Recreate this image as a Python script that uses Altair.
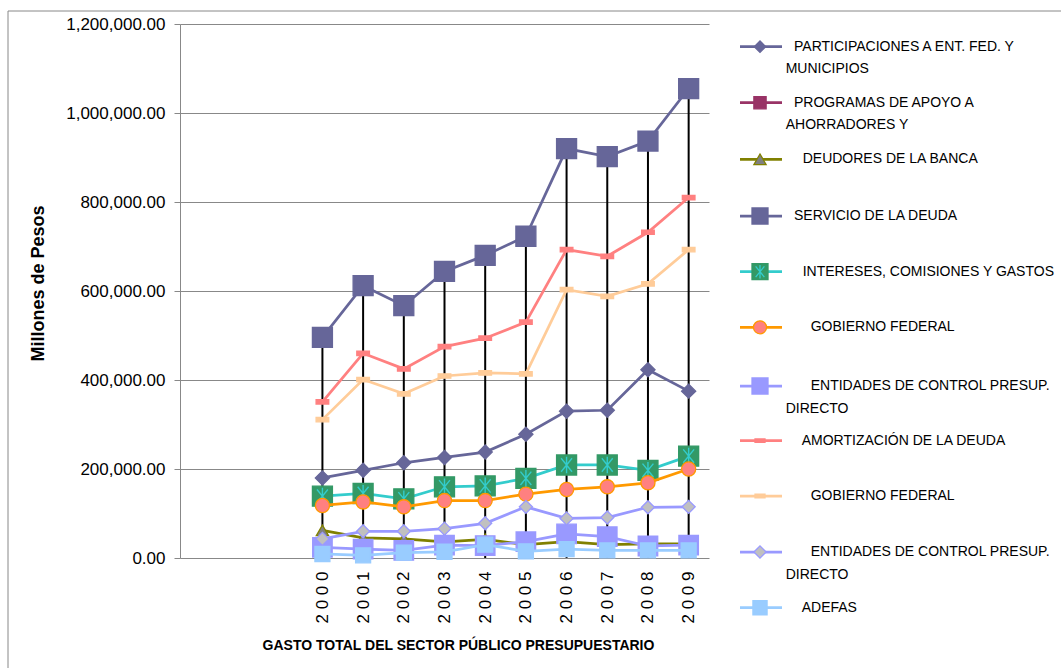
import altair as alt
import pandas as pd

# ---------------- data ----------------
years = [2000, 2001, 2002, 2003, 2004, 2005, 2006, 2007, 2008, 2009]

participaciones = [180000, 197000, 214000, 226000, 238000, 278000, 330000, 332000, 423000, 375000]
programas = [None] * 10  # no visible values in the chart
deudores = [62000, 45000, 43000, 36000, 42000, 30000, 37000, 30000, 32000, 32000]
servicio = [496000, 612000, 567000, 644000, 680000, 723000, 920000, 902000, 937000, 1055000]
intereses = [139000, 145000, 133000, 160000, 162000, 179000, 209000, 209000, 197000, 229000]
gobierno = [118000, 126000, 115000, 129000, 129000, 143500, 154000, 160000, 169000, 200000]
entidades = [24000, 20000, 17000, 29000, 28000, 36600, 54000, 48000, 27000, 29000]
amortizacion = [351000, 460000, 425000, 475000, 494000, 530000, 693000, 678000, 732000, 810000]
gobierno2 = [311000, 401000, 369000, 409000, 416000, 414000, 603000, 588000, 616000, 693000]
entidades2 = [43000, 60000, 60000, 66000, 78000, 115000, 89000, 91000, 114000, 115000]
adefas = [9000, 6000, 12000, 14000, 30000, 15000, 20000, 17000, 17000, 17000]

series_keys = ["participaciones", "programas", "deudores", "servicio", "intereses",
               "gobierno", "entidades", "amortizacion", "gobierno2", "entidades2", "adefas"]
series_values = [participaciones, programas, deudores, servicio, intereses,
                 gobierno, entidades, amortizacion, gobierno2, entidades2, adefas]
legend_line1 = ["PARTICIPACIONES A ENT. FED. Y", "PROGRAMAS DE APOYO  A", "DEUDORES DE LA BANCA",
                "SERVICIO DE LA DEUDA", "INTERESES, COMISIONES Y GASTOS", "GOBIERNO FEDERAL",
                "ENTIDADES DE CONTROL PRESUP.", "AMORTIZACIÓN DE LA DEUDA", "GOBIERNO FEDERAL",
                "ENTIDADES DE CONTROL PRESUP.", "ADEFAS"]
legend_line2 = ["MUNICIPIOS", "AHORRADORES Y", "", "", "", "", "DIRECTO", "", "", "DIRECTO", ""]

y_ticks = [0, 200000, 400000, 600000, 800000, 1000000, 1200000]

rows = []
for key, vals in zip(series_keys, series_values):
    for yr, v in zip(years, vals):
        if v is not None:
            rows.append({"series": key, "year": yr, "value": v})
df = pd.DataFrame(rows)

# ---------------- styles ----------------
DASH = "M-1,-0.35L1,-0.35L1,0.35L-1,0.35Z"
STAR = "M-0.65,-0.8L0.65,0.8M0.65,-0.8L-0.65,0.8M0,-1L0,1"
style = {
    "participaciones": dict(line="#666699", shape="diamond", fill="#666699", stroke="#666699", size=200, lsize=130),
    "programas": dict(line="#993366", shape="square", fill="#993366", stroke="#993366", size=150, lsize=150),
    "deudores": dict(line="#808000", shape="triangle-up", fill="#808080", stroke="#808000", size=150, lsize=150),
    "servicio": dict(line="#666699", shape="square", fill="#666699", stroke="#666699", size=400, lsize=256),
    "intereses": dict(line="#33CCCC", shape="square", fill="#339966", stroke="#339966", size=400, lsize=256, star=True),
    "gobierno": dict(line="#FF9900", shape="circle", fill="#FF8080", stroke="#FF9900", size=200, lsize=170),
    "entidades": dict(line="#9999FF", shape="square", fill="#9999FF", stroke="#9999FF", size=380, lsize=256),
    "amortizacion": dict(line="#FF8080", shape=DASH, fill="#FF8080", stroke="#FF8080", size=160, lsize=100),
    "gobierno2": dict(line="#FFCC99", shape=DASH, fill="#FFCC99", stroke="#FFCC99", size=160, lsize=100),
    "entidades2": dict(line="#9999FF", shape="diamond", fill="#C0C0C0", stroke="#9999FF", size=170, lsize=150),
    "adefas": dict(line="#99CCFF", shape="square", fill="#99CCFF", stroke="#99CCFF", size=225, lsize=200),
}

FONT = "Liberation Sans, Arial, sans-serif"

W, H = 529, 534
PAD_L, PAD_T = 180, 24

x_axis = alt.Axis(
    values=years, labelExpr="join(split(toString(datum.value), ''), ' ')",
    labelAngle=270, labelAlign="right", labelBaseline="middle",
    labelFont=FONT, labelFontSize=17, labelColor="#000000", labelPadding=13,
    ticks=False, tickSize=0, domain=False, grid=False,
    title="GASTO TOTAL DEL SECTOR PÚBLICO PRESUPUESTARIO",
    titleFont=FONT, titleFontSize=14, titleFontWeight="bold", titleColor="#000000",
    titleX=278, titleY=87, titleAlign="center", titleBaseline="middle",
)
y_axis = alt.Axis(
    values=y_ticks, format=",.2f", grid=True, gridColor="#888888", gridWidth=1,
    domainColor="#888888", tickColor="#888888", tickSize=6,
    labelFont=FONT, labelFontSize=17, labelColor="#000000", labelPadding=9,
    title="Millones de Pesos", titleFont=FONT, titleFontSize=18, titleFontWeight="bold",
    titleColor="#000000", titleAngle=270, titleX=-142, titleY=259,
    titleAlign="center", titleBaseline="middle",
)
x_scale = alt.Scale(domain=[1996.5, 2009.5], nice=False, zero=False)
y_scale = alt.Scale(domain=[0, 1200000], nice=False)

x_enc = alt.X("year:Q", scale=x_scale, axis=x_axis)
y_enc = alt.Y("value:Q", scale=y_scale, axis=y_axis)

base = alt.Chart(df)
layers = []

# drop lines (first layer carries the axes)
layers.append(
    base.transform_aggregate(value="max(value)", groupby=["year"])
    .mark_rule(color="#000000", strokeWidth=2)
    .encode(x=x_enc, y=y_enc, y2=alt.datum(0))
)

# outer frame
layers.append(
    alt.Chart(pd.DataFrame({"a": [0]})).mark_rect(fill=None, stroke="#888888", strokeWidth=1).encode(
        x=alt.value(8 - PAD_L), x2=alt.value(1061 - PAD_L + 20),
        y=alt.value(11 - PAD_T), y2=alt.value(668 - PAD_T + 20),
    )
)

for key in series_keys:
    st = style[key]
    if df[df.series == key].empty:
        continue
    sub = base.transform_filter(alt.datum.series == key)
    layers.append(sub.mark_line(color=st["line"], strokeWidth=2.75).encode(x=x_enc, y=y_enc))
    layers.append(
        sub.mark_point(shape=st["shape"], filled=True, fill=st["fill"], stroke=st["stroke"],
                       strokeWidth=1.3, size=st["size"], opacity=1).encode(x=x_enc, y=y_enc)
    )
    if st.get("star"):
        layers.append(
            sub.mark_point(shape=STAR, filled=False, stroke="#33CCCC", strokeWidth=1.4,
                           size=280, opacity=1).encode(x=x_enc, y=y_enc)
        )

# ---------------- legend ----------------
leg_y = [46.7, 102.7, 159.3, 216, 271.7, 327.3, 386, 440.7, 496, 552, 607.7]
leg_tx = [794, 794, 802.7, 794, 802.7, 810.7, 810.7, 801.7, 810.7, 810.7, 801.7]
one = pd.DataFrame({"a": [0]})
for i, key in enumerate(series_keys):
    st = style[key]
    yc = leg_y[i] - PAD_T
    c = alt.Chart(one)
    layers.append(c.mark_rule(color=st["line"], strokeWidth=2.75).encode(
        x=alt.value(740 - PAD_L), x2=alt.value(782 - PAD_L), y=alt.value(yc)))
    layers.append(c.mark_point(shape=st["shape"], filled=True, fill=st["fill"], stroke=st["stroke"],
                               strokeWidth=1.3, size=st["lsize"], opacity=1).encode(
        x=alt.value(760 - PAD_L), y=alt.value(yc)))
    if st.get("star"):
        layers.append(c.mark_point(shape=STAR, filled=False, stroke="#33CCCC", strokeWidth=1.3,
                                   size=180, opacity=1).encode(x=alt.value(760 - PAD_L), y=alt.value(yc)))
    layers.append(c.mark_text(align="left", baseline="middle", font=FONT, fontSize=14,
                              color="#000000").encode(
        x=alt.value(leg_tx[i] - PAD_L), y=alt.value(yc), text=alt.value(legend_line1[i])))
    if legend_line2[i]:
        layers.append(c.mark_text(align="left", baseline="middle", font=FONT, fontSize=14,
                                  color="#000000").encode(
            x=alt.value(785.7 - PAD_L), y=alt.value(yc + 22.5), text=alt.value(legend_line2[i])))

chart = alt.layer(*layers).properties(
    width=W, height=H,
    autosize=alt.AutoSizeParams(type="none"),
    padding={"left": PAD_L, "top": PAD_T, "right": 1061 - PAD_L - W, "bottom": 668 - PAD_T - H},
    background="#FFFFFF",
).configure_view(stroke=None)

chart.save("out.html", embed_options={"renderer": "svg", "actions": False})
